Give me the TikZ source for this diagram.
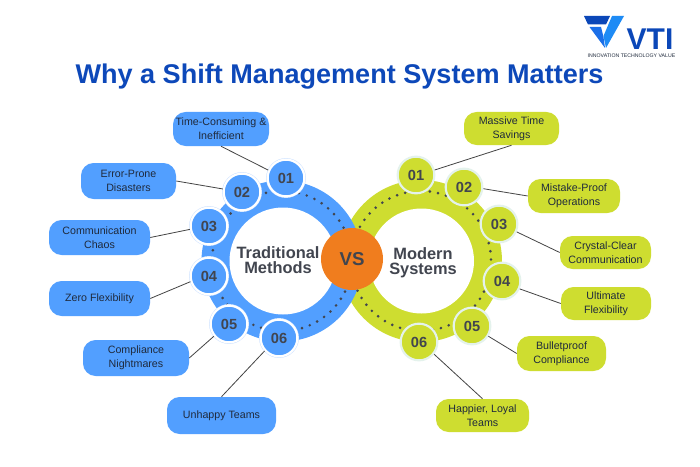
\documentclass[tikz,border=0pt]{standalone}
\usepackage{fontspec}
\setmainfont{Liberation Sans}
\definecolor{bluefill}{HTML}{529FFF}
\definecolor{bluering}{HTML}{CFE3FF}
\definecolor{greenfill}{HTML}{CEDD30}
\definecolor{greenring}{HTML}{E4F2EC}
\definecolor{vsorange}{HTML}{F07D1E}
\definecolor{titleblue}{HTML}{0D48B9}
\definecolor{logodark}{HTML}{0B47B8}
\definecolor{logomid}{HTML}{1B6FE8}
\definecolor{logolight}{HTML}{1E8BF5}
\definecolor{darktext}{HTML}{1F2A3C}
\definecolor{badgetext}{HTML}{41454F}
\definecolor{linegrey}{HTML}{444444}
\tikzset{
  x=0.75pt,y=-0.75pt,
  boxnode/.style={rounded corners=9.5pt,inner sep=0pt,align=center,font=\fontsize{8}{10.4}\selectfont,text=darktext},
  bluebox/.style={boxnode,fill=bluefill},
  greenbox/.style={boxnode,fill=greenfill},
  badge/.style={circle,minimum size=27.5pt,inner sep=0pt,line width=1.6pt,draw=white,font=\fontsize{11}{12}\selectfont\bfseries,text=badgetext},
  bluebadge/.style={badge,fill=bluefill,preaction={draw=bluering,line width=2.4pt}},
  greenbadge/.style={badge,fill=greenfill,draw=greenring},
  link/.style={draw=linegrey,line width=0.6pt},
  hubtext/.style={align=center,font=\fontsize{12.3}{11}\selectfont\bfseries,text=badgetext},
}
\begin{document}
\begin{tikzpicture}
\useasboundingbox (0,0) rectangle (700,467);
\fill[white] (0,0) rectangle (700,467);
% rings
\fill[greenfill] (421,261) circle[radius=81*0.75pt];
\fill[bluefill] (282,261) circle[radius=80.5*0.75pt];
\fill[white] (283,261) circle[radius=53.5*0.75pt];
\fill[white] (421.5,261) circle[radius=52.5*0.75pt];
% dots
\foreach \a in {0,...,52}{
  \fill[badgetext] (282,261) ++(69.3+\a*6.79:70*0.75pt) circle[radius=1.1pt];
  \fill[badgetext] (421,261) ++(110+\a*6.79:70*0.75pt) circle[radius=1.1pt];
}
\node[circle,fill=vsorange,minimum size=46.5pt,inner sep=0pt,font=\fontsize{14}{16}\selectfont\bfseries,text=badgetext] (vs) at (352,259) {VS};
\node[hubtext] (trad) at (278,260) {Traditional\\Methods};
\node[hubtext] (mod) at (423,262.5) {Modern\\Systems};
% title
\node[font=\fontsize{20.3}{22}\selectfont\bfseries,text=titleblue,inner sep=0pt] (title) at (339.5,77) {Why a Shift Management System Matters};
% blue badges
\node[bluebadge] (b1) at (286,178) {01};
\node[bluebadge] (b2) at (242,192) {02};
\node[bluebadge] (b3) at (209,226) {03};
\node[bluebadge] (b4) at (209,276) {04};
\node[bluebadge] (b5) at (229,324) {05};
\node[bluebadge] (b6) at (279,338) {06};
% green badges
\node[greenbadge] (g1) at (416,175) {01};
\node[greenbadge] (g2) at (464,187) {02};
\node[greenbadge] (g3) at (499,224) {03};
\node[greenbadge] (g4) at (502,281) {04};
\node[greenbadge] (g5) at (472,326) {05};
\node[greenbadge] (g6) at (419,342) {06};
% blue boxes
\node[bluebox,minimum width=72pt,minimum height=25.5pt] (t1) at (221,129) {Time-Consuming \&\\Inefficient};
\node[bluebox,minimum width=71.25pt,minimum height=27pt] (t2) at (128.5,181) {Error-Prone\\Disasters};
\node[bluebox,minimum width=75.75pt,minimum height=26.25pt] (t3) at (99.5,237.5) {Communication\\Chaos};
\node[bluebox,minimum width=75.75pt,minimum height=26.25pt] (t4) at (99.5,298.5) {Zero Flexibility};
\node[bluebox,minimum width=79.5pt,minimum height=27pt] (t5) at (136,358) {Compliance\\Nightmares};
\node[bluebox,minimum width=81.75pt,minimum height=27.75pt] (t6) at (221.5,415.5) {Unhappy Teams};
% green boxes
\node[greenbox,minimum width=71.25pt,minimum height=24.75pt] (m1) at (511.5,128.5) {Massive Time\\Savings};
\node[greenbox,minimum width=69pt,minimum height=25.5pt] (m2) at (574,196) {Mistake-Proof\\Operations};
\node[greenbox,minimum width=68.25pt,minimum height=24.75pt] (m3) at (605.5,252.5) {Crystal-Clear\\Communication};
\node[greenbox,minimum width=67.5pt,minimum height=24.75pt] (m4) at (606,303.5) {Ultimate\\Flexibility};
\node[greenbox,minimum width=66.75pt,minimum height=26.25pt] (m5) at (561.5,353.5) {Bulletproof\\Compliance};
\node[greenbox,minimum width=69.75pt,minimum height=24.75pt] (m6) at (482.5,415.5) {Happier, Loyal\\Teams};
% connectors
\draw[link] (t1.south) -- (b1.156);
\draw[link] (t2.east) -- (b2.171);
\draw[link] (t3.east) -- (b3.190);
\draw[link] (t4.east) -- (b4.197);
\draw[link] (t5.east) -- (b5.219);
\draw[link] (t6.north) -- (b6.222);
\draw[link] (m1.south) -- (g1.15);
\draw[link] (m2.west) -- (g2.-5);
\draw[link] (m3.west) -- (g3.-24);
\draw[link] (m4.west) -- (g4.-24);
\draw[link] (m5.west) -- (g5.-32);
\draw[link] (m6.north) -- (g6.-39);
% logo
\fill[logodark] (584,16) -- (610,16) -- (606,24.5) -- (588,24.5) -- cycle;
\fill[logomid] (589.5,27) -- (601,27) -- (603.5,37) -- (605,48) -- cycle;
\fill[logolight] (612,16) -- (624,16) -- (606,48) -- (603.5,36) -- cycle;
\node[font=\fontsize{22.5}{23}\selectfont\bfseries,text=logodark,inner sep=0pt] (vti) at (650,39) {VTI};
\node[font=\fontsize{3.9}{4}\selectfont,text=darktext,inner sep=0pt] (tag) at (631.5,56) {INNOVATION TECHNOLOGY VALUE};
\end{tikzpicture}
\end{document}
